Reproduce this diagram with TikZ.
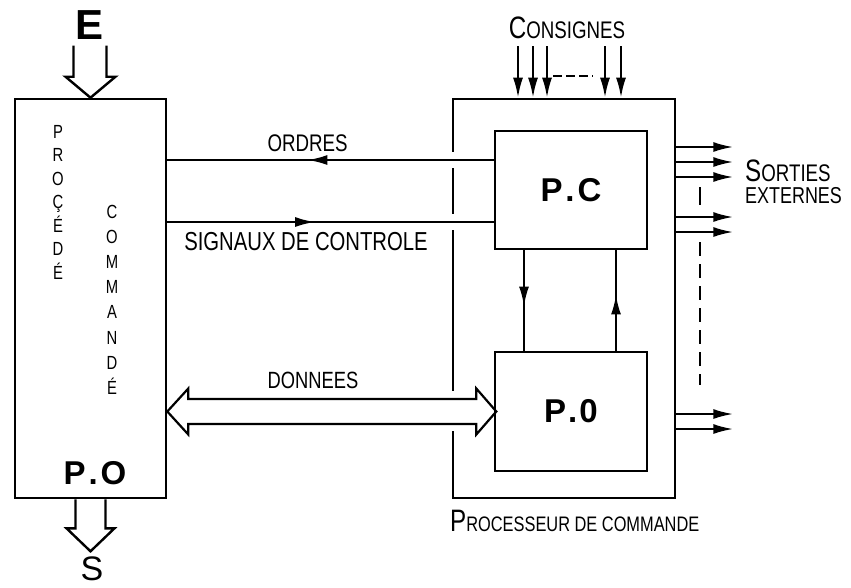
\documentclass[tikz,border=0pt]{standalone}
\usepackage{fontspec}
\setmainfont{Liberation Sans}
\newfontfamily\etroit{Liberation Sans}[FakeStretch=0.78]
\usetikzlibrary{arrows.meta,calc,decorations.markings}
\newcommand\initiale[1]{{\fontsize{31}{31}\selectfont #1}}

\begin{document}
\begin{tikzpicture}[
  x=1pt,y=-1pt,
  every node/.style={font=\etroit\fontsize{24}{24}\selectfont,inner sep=0pt},
  bloc/.style={draw,line width=2.6pt},
  gras/.style={font=\bfseries\fontsize{33}{33}\selectfont},
  lettre/.style={anchor=base,font=\etroit\fontsize{19}{19}\selectfont},
  fleche/.style={line width=2.2pt,-{Latex[length=20pt,width=10pt]}},
  milieu/.style={line width=2.4pt,postaction={decorate},
    decoration={markings,mark=at position #1 with {\arrow{Latex[length=20pt,width=10pt]}}}},
  creux/.style={line width=2.4pt,line join=miter},
]
  \useasboundingbox (0,0) rectangle (851,587);

  % Procede commande
  \node[bloc,minimum width=151pt,minimum height=399pt] (procede) at (90.5,298.5) {};
  \node[gras] (po1) at (95,473) {P\kern3pt.\kern3ptO};
  \foreach \l [count=\i from 0] in {P,R,O,Ç,É,D,É}
    \node[lettre] (pr\i) at (58,138+23.5*\i) {\l};
  \foreach \l [count=\i from 0] in {C,O,M,M,A,N,D,É}
    \node[lettre] (co\i) at (112,218+25.2*\i) {\l};

  % Entree / sortie
  \node[font=\bfseries\fontsize{42}{42}\selectfont] (entree) at (90,25) {E};
  \node[font=\fontsize{34}{34}\selectfont] (sortie) at (92,569) {S};
  \draw[creux] (procede.north) ++(-17,-52) -- ++(0,31) -- ++(-8,0) -- (procede.north)
    -- ++(25,-21) -- ++(-9,0) -- ++(0,-31);
  \draw[creux] (procede.south) ++(-15,0) -- ++(0,29) -- ++(-9,0) -- ++(24,23)
    -- ++(24,-23) -- ++(-9,0) -- ++(0,-29);

  % Processeur de commande
  \node[bloc,minimum width=222pt,minimum height=399pt] (proc) at (564,298.5) {};
  \foreach \y/\h in {160/16,222/16,411/40}
    \fill[white] (448,\y-\h/2) rectangle (458,\y+\h/2);
  \node[anchor=west,font=\etroit\fontsize{21}{21}\selectfont] (proclbl) at (450,521)
    {\initiale{P}ROCESSEUR DE COMMANDE};
  \node[bloc,gras,minimum width=152pt,minimum height=118pt] (pc) at (571,190) {P\kern3pt.\kern3ptC};
  \node[bloc,gras,minimum width=152pt,minimum height=119pt] (po) at (571,411.5) {P\kern2pt.\kern2pt0};

  % Liaisons
  \draw[milieu=0.571] ([yshift=30pt]pc.west) coordinate (o1) -- (o1 -| procede.east)
    node[pos=0.57,above=7pt] (ordres) {ORDRES};
  \draw[milieu=0.453] ([yshift=-32pt]pc.west) coordinate (s1)
    (s1 -| procede.east) -- (s1);
  \node[font=\etroit\fontsize{26}{26}\selectfont] (signaux) at (306,242) {SIGNAUX DE CONTROLE};
  \draw[milieu=0.56] ([xshift=-47pt]pc.south) -- ([xshift=-47pt]po.north);
  \draw[milieu=0.56] ([xshift=45pt]po.north) -- ([xshift=45pt]pc.south);

  % Donnees
  \draw[line width=2.2pt,line join=miter] (po.west -| procede.east) -- ++(21,-23) -- ++(0,10.5)
    -- ++(288,0) -- ++(0,-10.5) -- ++(20,23) -- ++(-20,23) -- ++(0,-10.5)
    -- ++(-288,0) -- ++(0,10.5) -- cycle;
  \node[font=\etroit\fontsize{23.5}{23.5}\selectfont] (donnees) at (313,380) {DONNEES};

  % Consignes
  \node (cons) at (567,28) {\initiale{C}ONSIGNES};
  \foreach \dx in {-49,-34,-20,38,54}
    \draw[fleche] ($(cons.south)+(\dx,7)$) coordinate (c) -- (c |- proc.north);
  \draw[line width=2pt,dash pattern=on 9pt off 4pt] (553,76) -- (593,76);

  % Sorties externes
  \foreach \y in {147,162,177,217,232,414,429}
    \draw[fleche] (proc.east |- 0,\y) -- ++(57,0);
  \draw[line width=2pt,dash pattern=on 18pt off 8pt] (700,187) -- (700,207);
  \draw[line width=2pt,dash pattern=on 14pt off 8pt] (700,242) -- (700,385);
  \node[anchor=base west] (sorties) at (745,181) {\initiale{S}ORTIES};
  \node[anchor=base west,font=\etroit\fontsize{23}{23}\selectfont] (externes) at (745,203) {EXTERNES};
\end{tikzpicture}
\end{document}
